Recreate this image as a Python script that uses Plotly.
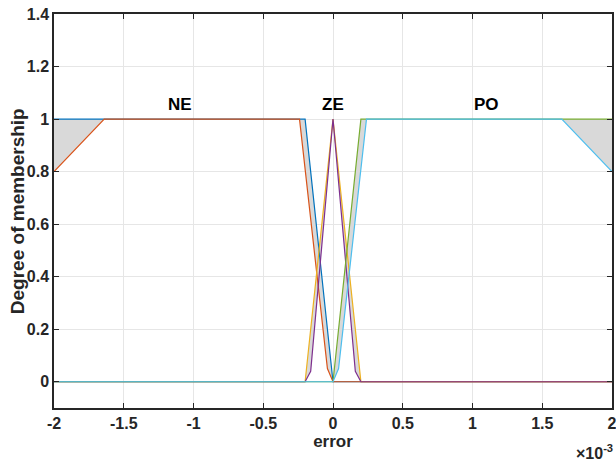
import plotly.graph_objects as go

# Membership function vertices (x in units of 1e-3)
ne_upper_x = [-2, -0.2, 0, 2]
ne_upper_y = [1, 1, 0, 0]
ne_lower_x = [-2, -1.64, -0.24, -0.04, 0, 2]
ne_lower_y = [0.8, 1, 1, 0.05, 0, 0]

ze_upper_x = [-2, -0.2, 0, 0.2, 2]
ze_upper_y = [0, 0, 1, 0, 0]
ze_lower_x = [-2, -0.2, -0.16, 0, 0.16, 0.2, 2]
ze_lower_y = [0, 0, 0.04, 1, 0.04, 0, 0]

po_upper_x = [-2, 0, 0.2, 2]
po_upper_y = [0, 0, 1, 1]
po_lower_x = [-2, 0, 0.04, 0.24, 1.64, 2]
po_lower_y = [0, 0, 0.05, 1, 1, 0.8]

labels = ["NE", "ZE", "PO"]
label_x = [-1.1, 0, 1.1]
label_y = [1.055, 1.055, 1.055]

x_ticks = [-2, -1.5, -1, -0.5, 0, 0.5, 1, 1.5, 2]
x_ticktext = ["-2", "-1.5", "-1", "-0.5", "0", "0.5", "1", "1.5", "2"]
y_ticks = [0, 0.2, 0.4, 0.6, 0.8, 1, 1.2, 1.4]
y_ticktext = ["0", "0.2", "0.4", "0.6", "0.8", "1", "1.2", "1.4"]

colors = ["#0072BD", "#D95319", "#EDB120", "#7E2F8E", "#77AC30", "#4DBEEE"]
fou_color = "#D9D9D9"

sets = [
    (ne_upper_x, ne_upper_y, ne_lower_x, ne_lower_y),
    (ze_upper_x, ze_upper_y, ze_lower_x, ze_lower_y),
    (po_upper_x, po_upper_y, po_lower_x, po_lower_y),
]

fig = go.Figure()

# Footprints of uncertainty (gray fills)
for ux, uy, lx, ly in sets:
    fig.add_trace(go.Scatter(
        x=list(ux) + list(lx)[::-1],
        y=list(uy) + list(ly)[::-1],
        fill="toself", fillcolor=fou_color, mode="none",
        hoverinfo="skip", showlegend=False))

# Upper / lower membership lines
i = 0
for ux, uy, lx, ly in sets:
    for xs, ys in ((ux, uy), (lx, ly)):
        fig.add_trace(go.Scatter(x=xs, y=ys, mode="lines",
                                 line=dict(color=colors[i], width=1.2),
                                 showlegend=False))
        i += 1

font_family = "Liberation Sans, Arial, sans-serif"
for t, lx_, ly_ in zip(labels, label_x, label_y):
    fig.add_annotation(x=lx_, y=ly_, text="<b>%s</b>" % t, showarrow=False,
                       font=dict(family=font_family, size=17, color="#000000"))

fig.add_annotation(xref="paper", yref="paper", x=1.006, y=-0.142,
                   xanchor="right", yanchor="bottom",
                   text="<b>×10<sup>-3</sup></b>", showarrow=False,
                   font=dict(family=font_family, size=16, color="#262626"))

fig.add_annotation(xref="paper", yref="paper", x=-0.066, y=0.5,
                   xanchor="center", yanchor="middle", textangle=-90,
                   text="<b>Degree of membership</b>", showarrow=False,
                   font=dict(family=font_family, size=19, color="#262626"))

axis_common = dict(
    showline=True, linecolor="#262626", linewidth=1.5, mirror="ticks",
    ticks="inside", ticklen=5, tickwidth=1.2, tickcolor="#262626",
    showgrid=True, gridcolor="#E6E6E6", gridwidth=1, zeroline=False,
    automargin=False, ticklabeloverflow="allow",
    tickfont=dict(family=font_family, size=16, color="#262626", weight="bold"),
)

fig.update_xaxes(range=[-2, 2], tickvals=x_ticks, ticktext=x_ticktext,
                 title=dict(text="<b>error</b>", standoff=0,
                            font=dict(family=font_family, size=17, color="#262626")),
                 **axis_common)
fig.update_yaxes(range=[-0.1, 1.4], tickvals=y_ticks, ticktext=y_ticktext,
                 **axis_common)

fig.update_layout(width=616, height=461,
                  margin=dict(l=54, r=4, t=14, b=53),
                  plot_bgcolor="white", paper_bgcolor="white",
                  showlegend=False)

fig.write_html("out.html")
